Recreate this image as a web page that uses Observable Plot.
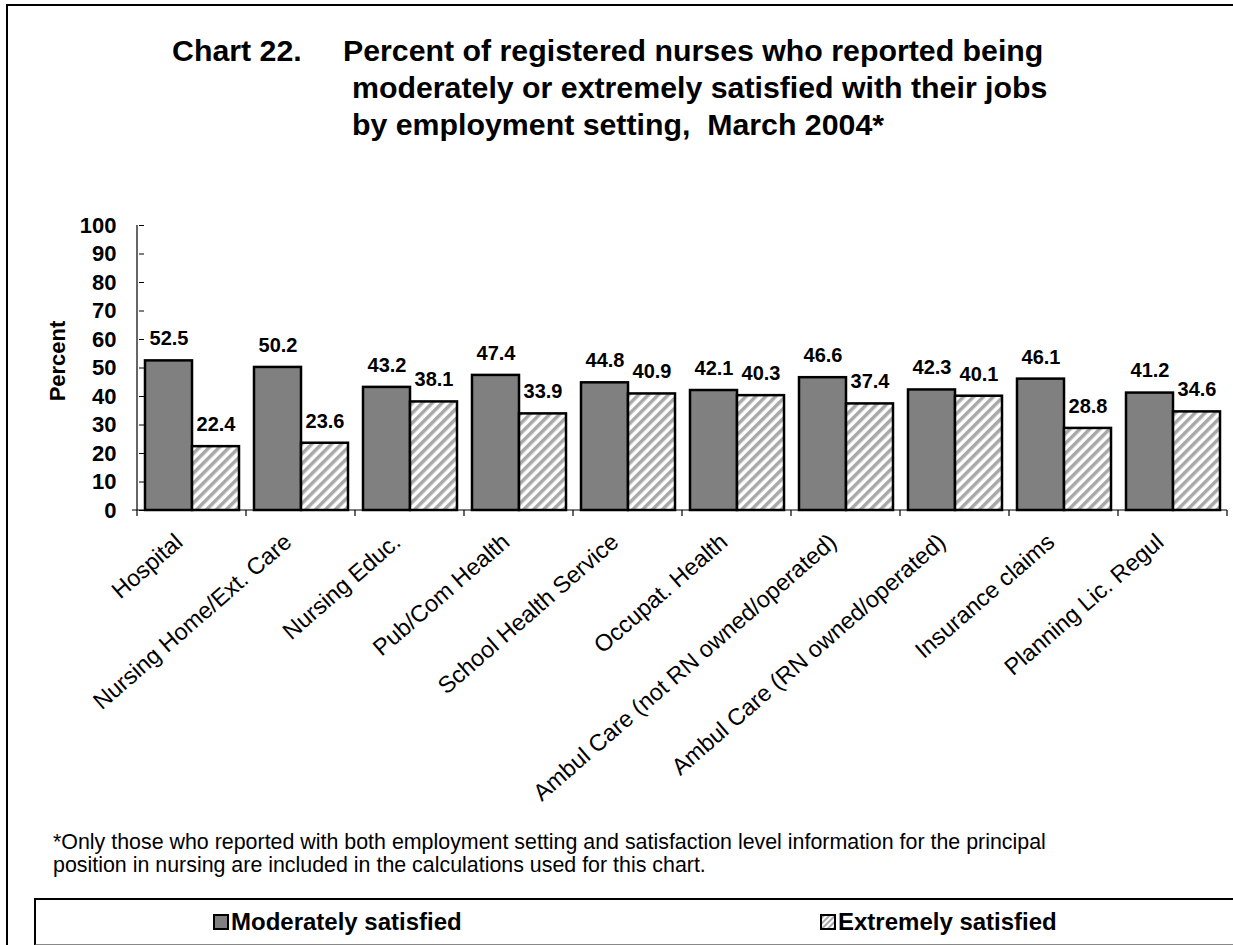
<!DOCTYPE html>
<html>
<head>
<meta charset="utf-8">
<script src="https://cdn.jsdelivr.net/npm/d3@7"></script>
<script src="https://cdn.jsdelivr.net/npm/@observablehq/plot@0.6"></script>
<style>
  html, body { margin: 0; padding: 0; background: #fff; }
  #root { position: relative; width: 1233px; height: 945px; overflow: hidden; background: #fff;
          font-family: "Liberation Sans", Arial, sans-serif; color: #000; }
  .abs { position: absolute; white-space: pre; line-height: 1; }
  .title { font-size: 30.3px; font-weight: bold; }
  .foot { font-size: 21.4px; }
  .leg { font-size: 24px; font-weight: bold; }
  #frame { position: absolute; left: 6px; top: 4px; width: 1300px; height: 1000px;
           border-left: 2px solid #000; border-top: 2px solid #000; }
  #legbox { position: absolute; left: 34px; top: 898px; width: 1300px; height: 44px;
            border-left: 2px solid #000; border-top: 2px solid #000; border-bottom: 2px solid #888; }
  .sw { position: absolute; width: 12px; height: 12px; border: 2px solid #000; }
  #chart { position: absolute; left: 0; top: 180px; }
  #chart g[aria-label^="y-axis"] text { font-weight: bold; font-size: 22px; }
  #chart g[aria-label^="fx-axis"] text { font-size: 23.4px; font-weight: normal; }
</style>
</head>
<body>
<div id="root">
  <div id="frame"></div>
  <div class="abs title" style="left:172px; top:36.4px">Chart 22.</div>
  <div class="abs title" style="left:343px; top:36.4px">Percent of registered nurses who reported being</div>
  <div class="abs title" style="left:352px; top:73.4px">moderately or extremely satisfied with their jobs</div>
  <div class="abs title" style="left:352px; top:110.4px">by employment setting,  March 2004*</div>
  <div id="chart"></div>
  <div class="abs foot" style="left:53px; top:832px">*Only those who reported with both employment setting and satisfaction level information for the principal</div>
  <div class="abs foot" style="left:53px; top:855px">position in nursing are included in the calculations used for this chart.</div>
  <div id="legbox"></div>
  <div id="sw1" class="sw" style="left:213px; top:914px; background:#808080"></div>
  <div id="lg1" class="abs leg" style="left:231px; top:910px"></div>
  <div id="sw2" class="sw" style="left:820px; top:914px"></div>
  <div id="lg2" class="abs leg" style="left:838px; top:910px"></div>
</div>
<script>
const categories = [
  "Hospital",
  "Nursing Home/Ext. Care",
  "Nursing Educ.",
  "Pub/Com Health",
  "School Health Service",
  "Occupat. Health",
  "Ambul Care (not RN owned/operated)",
  "Ambul Care (RN owned/operated)",
  "Insurance claims",
  "Planning Lic. Regul"
];
const seriesNames = ["Moderately satisfied", "Extremely satisfied"];
const moderately = [52.5, 50.2, 43.2, 47.4, 44.8, 42.1, 46.6, 42.3, 46.1, 41.2];
const extremely  = [22.4, 23.6, 38.1, 33.9, 40.9, 40.3, 37.4, 40.1, 28.8, 34.6];
const yTicks = [0, 10, 20, 30, 40, 50, 60, 70, 80, 90, 100];

const data = categories.flatMap((c, i) => [
  {setting: c, series: seriesNames[0], value: moderately[i]},
  {setting: c, series: seriesNames[1], value: extremely[i]}
]);

document.getElementById("lg1").textContent = seriesNames[0];
document.getElementById("lg2").textContent = seriesNames[1];

const plot = Plot.plot({
  width: 1233,
  height: 640,
  marginTop: 45,
  marginBottom: 310,
  marginLeft: 135,
  marginRight: 5,
  style: {fontFamily: "'Liberation Sans', Arial, sans-serif", color: "#000", background: "transparent", overflow: "visible"},
  fx: {domain: categories, paddingInner: 0.13, paddingOuter: 0.065, tickRotate: -41, tickSize: 0, tickPadding: 17, label: null},
  x: {domain: seriesNames, padding: 0, axis: null},
  y: {domain: [0, 100], ticks: yTicks, tickSize: 5, tickPadding: 23, label: "Percent", labelAnchor: "center", labelOffset: 95},
  color: {domain: seriesNames, range: ["#808080", "url(#hatch)"]},
  marks: [
    Plot.barY(data, {fx: "setting", x: "series", y: "value", fill: "series", stroke: "#000", strokeWidth: 2.5}),
    Plot.text(data, {fx: "setting", x: "series", y: "value", text: d => d.value.toFixed(1), dy: -22, fontWeight: "bold", fontSize: 20, fill: "#000"})
  ]
});

const svg = d3.select(plot);

// strip the direction arrow from the y label
svg.selectAll('g[aria-label^="y-axis"] text').each(function() {
  if (this.textContent.includes("Percent")) {
    this.textContent = "Percent";
    d3.select(this).attr("dx", 7);
  }
});
// nudge rotated category labels along their direction
svg.selectAll('g[aria-label^="fx-axis"] text').attr("dx", -17);

// hatch pattern
const defs = svg.insert("defs", ":first-child");
const pat = defs.append("pattern").attr("id", "hatch").attr("patternUnits", "userSpaceOnUse")
  .attr("width", 7).attr("height", 7).attr("patternTransform", "rotate(45)");
pat.append("rect").attr("width", 7).attr("height", 7).attr("fill", "#fff");
pat.append("rect").attr("width", 3.5).attr("height", 7).attr("fill", "#a8a8a8");

// axis lines and category boundary ticks from the library's scales
const fx = plot.scale("fx");
const ys = plot.scale("y");
const y0 = ys.apply(0), y100 = ys.apply(100);
const step = fx.step ?? (fx.range[1] - fx.range[0]) / categories.length;
const bw = fx.bandwidth;
const bounds = categories.map(c => fx.apply(c) - (step - bw) / 2);
bounds.push(fx.apply(categories[categories.length - 1]) + bw + (step - bw) / 2);
const ax = svg.append("g").attr("stroke", "#000").attr("stroke-width", 1.2);
ax.append("line").attr("x1", bounds[0]).attr("x2", bounds[0]).attr("y1", y0).attr("y2", y100);
ax.append("line").attr("x1", bounds[0] - 5).attr("x2", bounds[bounds.length - 1]).attr("y1", y0).attr("y2", y0);
ax.selectAll(".bt").data(bounds).join("line").attr("x1", d => d).attr("x2", d => d).attr("y1", y0).attr("y2", y0 + 6);

document.getElementById("chart").appendChild(plot);

// hatched legend swatch
const sw2 = d3.select("#sw2").append("svg").attr("width", 12).attr("height", 12).style("display", "block");
const d2 = sw2.append("defs").append("pattern").attr("id", "hatch2").attr("patternUnits", "userSpaceOnUse")
  .attr("width", 4).attr("height", 4).attr("patternTransform", "rotate(45)");
d2.append("rect").attr("width", 4).attr("height", 4).attr("fill", "#fff");
d2.append("rect").attr("width", 2).attr("height", 4).attr("fill", "#a8a8a8");
sw2.append("rect").attr("width", 12).attr("height", 12).attr("fill", "url(#hatch2)");
</script>
</body>
</html>
